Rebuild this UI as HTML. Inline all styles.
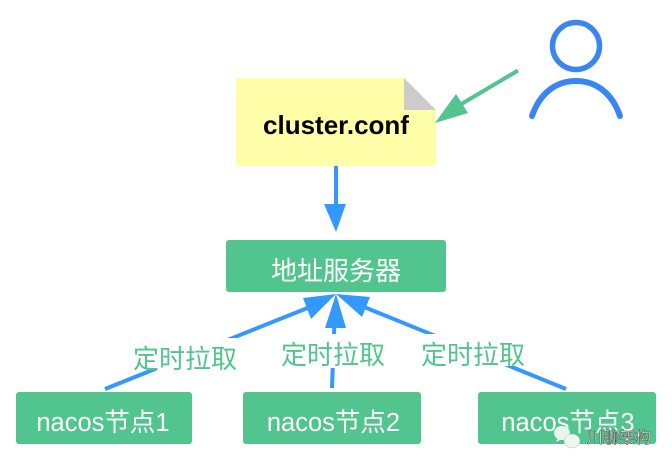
<!DOCTYPE html>
<html>
<head>
<meta charset="utf-8">
<style>
html,body{margin:0;padding:0;background:#fff;width:672px;height:468px;overflow:hidden}
svg{display:block}
text{font-family:"Liberation Sans","Noto Sans CJK SC",sans-serif}
</style>
</head>
<body>
<svg width="672" height="468" viewBox="0 0 672 468" xmlns="http://www.w3.org/2000/svg">
<rect width="672" height="468" fill="#fff"/>

<!-- note -->
<path d="M236 78H404L436 110V166H236Z" fill="#ffffaa"/>
<path d="M404 78L436 110H404Z" fill="#cccccc"/>
<text x="336" y="134" font-size="26" font-weight="bold" fill="#000" text-anchor="middle">cluster.conf</text>

<!-- user icon -->
<circle cx="576" cy="46" r="23.5" fill="none" stroke="#3a86f0" stroke-width="5.5"/>
<path d="M532 116C540 93 556 81 576 81C596 81 612 93 620 116" fill="none" stroke="#3a86f0" stroke-width="6" stroke-linecap="round"/>

<!-- green arrow -->
<line x1="518" y1="70.5" x2="458" y2="106" stroke="#52c48d" stroke-width="4"/>
<polygon points="435,123 456,94 468,113" fill="#52c48d"/>

<!-- blue arrow -->
<line x1="336" y1="166" x2="336" y2="206" stroke="#3399ff" stroke-width="4"/>
<polygon points="336,232 324,204 346,204" fill="#3399ff"/>

<!-- up arrows -->
<line x1="105" y1="389" x2="310" y2="307" stroke="#3399ff" stroke-width="4"/>
<polygon points="336,294 303,298 311,319" fill="#3399ff"/>
<line x1="332" y1="388" x2="334.5" y2="320" stroke="#3399ff" stroke-width="4"/>
<polygon points="336,294 325,328 346,328" fill="#3399ff"/>
<line x1="566" y1="389" x2="364" y2="307" stroke="#3399ff" stroke-width="4"/>
<polygon points="336,294 370,297 362,317" fill="#3399ff"/>

<!-- boxes -->
<rect x="226" y="240" width="220" height="52" rx="3" fill="#52c48d"/>
<text x="336" y="280" font-size="26" fill="#fff" text-anchor="middle">地址服务器</text>
<rect x="16" y="392" width="176" height="52" rx="3" fill="#52c48d"/>
<text x="103" y="431" font-size="25.5" fill="#fff" text-anchor="middle">nacos节点1</text>
<rect x="243" y="392" width="178" height="52" rx="3" fill="#52c48d"/>
<text x="333.5" y="431" font-size="25.5" fill="#fff" text-anchor="middle">nacos节点2</text>
<rect x="478" y="392" width="178" height="52" rx="3" fill="#52c48d"/>
<text x="568" y="431" font-size="25.5" fill="#fff" text-anchor="middle">nacos节点3</text>

<!-- labels -->
<rect x="133" y="338" width="104" height="32" fill="#fff"/>
<text x="185" y="368" font-size="26" fill="#52c48d" text-anchor="middle">定时拉取</text>
<rect x="281" y="334" width="104" height="34" fill="#fff"/>
<text x="333" y="364" font-size="26" fill="#52c48d" text-anchor="middle">定时拉取</text>
<rect x="421" y="334" width="104" height="32" fill="#fff"/>
<text x="473" y="364" font-size="26" fill="#52c48d" text-anchor="middle">定时拉取</text>

<!-- watermark -->
<ellipse cx="562" cy="433" rx="8" ry="7" fill="#e9f5ef"/>
<polygon points="558,438 556,442 562,439" fill="#e9f5ef"/>
<ellipse cx="572" cy="441" rx="8" ry="7" fill="#ecf7f1" stroke="#bbb" stroke-width="0.5"/>
<text x="587" y="443" font-size="16" fill="#fff" stroke="#444" stroke-width="0.5">川聊架构</text>
</svg>
</body>
</html>
